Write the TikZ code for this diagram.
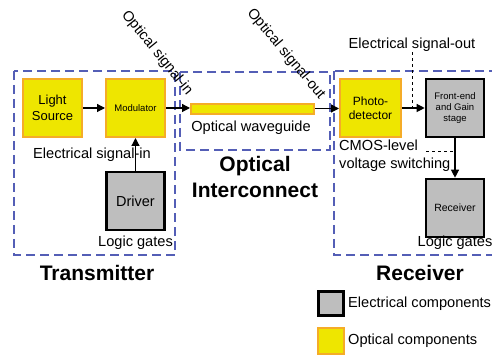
\documentclass[tikz,border=0pt]{standalone}
\usepackage{fontspec}
\setmainfont{Liberation Sans}
\usetikzlibrary{arrows.meta, positioning, calc}
\definecolor{groupblue}{RGB}{84,94,182}
\definecolor{optfill}{RGB}{238,230,0}
\definecolor{optedge}{RGB}{245,172,40}
\definecolor{elecfill}{RGB}{190,190,190}

\begin{document}
\begin{tikzpicture}[x=1pt, y=-1pt,
  optbox/.style={draw=optedge, fill=optfill, line width=2pt, minimum width=59pt, minimum height=58pt, inner sep=1pt, align=center},
  elecbox/.style={draw=black, fill=elecfill, line width=2.6pt, minimum width=58pt, minimum height=58pt, inner sep=1pt, align=center},
  group/.style={draw=groupblue, line width=2.4pt, dash pattern=on 9pt off 5pt},
  sig/.style={-{Triangle[length=8pt,width=8pt]}, line width=1.2pt},
  hint/.style={dashed, line width=1pt},
  lbl/.style={font=\fontsize{14.6}{18}\selectfont, inner sep=0pt},
  head/.style={font=\fontsize{21}{26}\selectfont\bfseries, inner sep=0pt, align=center}]
  \useasboundingbox (0,0) rectangle (492,355);

  % dashed groups
  \draw[group] (14,71) rectangle (175,255);
  \draw[group] (180,72) rectangle (330,150);
  \draw[group] (334,71) rectangle (505,255);

  % transmitter
  \node[optbox, font=\fontsize{13}{16}\selectfont] (light) at (52.5,108) {Light\\Source};
  \node[optbox, font=\fontsize{9.5}{12}\selectfont] (mod) at (135.5,108) {Modulator};
  \node[elecbox, font=\fontsize{14.5}{17}\selectfont] (driver) at (135.5,201) {Driver};
  \node[lbl] (esigin) at (92,155) {Electrical signal-in};
  \node[lbl] (txlogic) at (135.5,243) {Logic gates};
  \node[head] (tx) at (97,273) {Transmitter};

  % optical interconnect
  \node[draw=optedge, fill=optfill, line width=2pt, minimum width=123pt, minimum height=10pt, inner sep=0pt] (wg) at (252.5,109) {};
  \node[lbl] (wglabel) at (251,128) {Optical waveguide};
  \node[head] (oi) at (255,177) {Optical\\Interconnect};
  \node[lbl, rotate=-51] (sigin) at (157,53) {Optical signal-in};
  \node[lbl, rotate=-50] (sigout) at (286,54) {Optical signal-out};

  % receiver
  \node[optbox, minimum width=61pt, font=\fontsize{12}{14}\selectfont] (photo) at (370.5,108.5) {Photo-\\detector};
  \node[elecbox, font=\fontsize{9.5}{11}\selectfont] (fe) at (455,108) {Front-end\\and Gain\\stage};
  \node[elecbox, font=\fontsize{10.5}{12}\selectfont] (recv) at (455,208) {Receiver};
  \node[lbl] (esigout) at (412,45) {Electrical signal-out};
  \node[lbl, align=left, anchor=north west] (cmos) at (339,140) {CMOS-level\\voltage switching};
  \node[lbl] (rxlogic) at (455,243) {Logic gates};
  \node[head] (rx) at (420,273) {Receiver};

  % signal path
  \draw[sig] (light) -- (mod);
  \draw[sig] (mod.east) -- (mod.east -| wg.west);
  \draw[sig] (driver) -- (mod);
  \draw[sig] (wg.east |- photo.west) -- (photo.west);
  \draw[sig] (photo.east |- fe.west) -- (fe.west);
  \draw[sig] (fe) -- (recv);
  \coordinate (cmosend) at (426,152);
  \draw[hint] (esigout.south) -- (esigout.south |- fe.west);
  \draw[hint] (cmosend) -- (cmosend -| fe.south);

  % legend
  \node[elecbox, minimum width=25pt, minimum height=24pt] (legelec) at (331,303.5) {};
  \node[lbl, anchor=west] (legeleclabel) at (348,304) {Electrical components};
  \node[optbox, minimum width=26pt, minimum height=26pt] (legopt) at (331,340.5) {};
  \node[lbl, anchor=west] (legoptlabel) at (348,341) {Optical components};
\end{tikzpicture}
\end{document}
